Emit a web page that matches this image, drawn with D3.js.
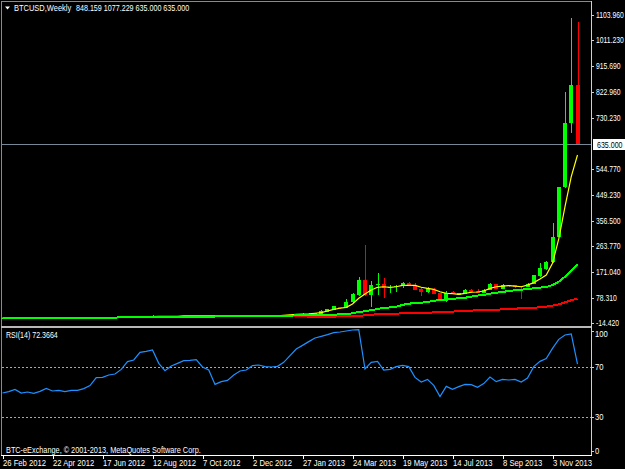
<!DOCTYPE html>
<html><head><meta charset="utf-8">
<script src="https://cdn.jsdelivr.net/npm/d3@7"></script>
<style>html,body{margin:0;padding:0;background:#000}svg{display:block}text{font-family:"Liberation Sans",Arial,sans-serif;font-size:8.5px;fill:#fff}</style>
</head><body><svg id="c" width="625" height="469"></svg>
<script>
const opens=[4.9,5.0,4.9,4.8,5.2,5.4,4.9,5.0,5.0,5.1,4.9,5.1,5.1,5.1,5.2,5.6,6.5,6.6,6.8,7.0,7.6,8.8,8.9,10.5,11.0,13.2,11.2,10.0,10.8,11.2,12.0,12.2,12.4,12.2,11.8,10.5,11.0,11.2,12.2,12.6,12.3,13.0,13.4,13.4,13.4,13.6,14.0,14.4,19.0,20.0,18.0,
19.3,26.5,33.7,44,41,63,89,142,89,126,127,112,116,123,130,125.5,108.6,97.7,107,96.5,71,98,87,90.5,105,102.5,96.5,106,127,110,124,123,122,118,128,157,181,206,297,478,710,848.159];
const closes=[5.0,4.9,4.8,5.2,5.4,4.9,5.0,5.0,5.1,4.9,5.1,5.1,5.1,5.2,5.6,6.5,6.6,6.8,7.0,7.6,8.8,8.9,10.5,11.0,13.2,11.2,10.0,10.8,11.2,12.0,12.2,12.4,12.2,11.8,10.5,11.0,11.2,12.2,12.6,12.3,13.0,13.4,13.4,13.4,13.6,14.0,14.4,19.0,20.0,18.0,23.0,
29,36,48,42,63,92,142,89,124,127,112,117,121,131.5,125.5,107,99,112,93,71,94,90.5,95,106,99,96.5,106,128,110,124,119,117,118,128,160.5,187,209,299,478,710,848,635];
const highs=[5.2,5.1,5.0,5.3,5.5,5.4,5.1,5.1,5.2,5.1,5.2,5.2,5.2,5.3,5.7,6.6,6.8,7.0,7.1,7.8,9.0,9.2,10.8,11.5,15.5,13.5,11.5,11.0,11.5,12.2,12.5,12.6,12.5,12.3,11.9,11.2,11.5,12.4,12.9,12.8,13.2,14.5,13.7,13.6,13.9,14.3,15.0,20.0,22.0,21.5,24.0,
32,36,48,46,75,96.5,152,268,139,166,148,124,125,136,136,131.5,116,118,112,96.5,102.5,102.5,95,111,110,108.5,110,132,128,127,124,123,122,130,162,205,211,350,478,823,1091,1077.229];
const lows=[4.7,4.8,4.6,4.7,5.1,4.8,4.8,4.9,4.9,4.8,4.8,5.0,5.0,5.0,5.1,5.5,6.3,6.4,6.6,6.9,7.4,8.5,8.8,10.3,10.8,10.0,9.5,9.8,10.6,11.0,11.8,12.0,11.9,11.5,10.0,10.2,10.8,11.1,12.0,12.0,12.1,12.8,13.0,13.1,13.2,13.5,13.8,14.2,18.0,17.5,17.5,
19,26,33,38,41,60,84,84,46,88,77,95,99,112,125,107,84.5,97,93,71,64,90,87,90.5,94,94,94,105,110,109,116,115,72,117,127,155,180,205,297,475,676,635];
const fastMA=[5,5,5,5,5,5,5,5,5,5,5,5,5,5,5,5,5,5,5,8,9,9.5,10,10,10,10.5,10.5,10.5,10.5,12.5,12.5,12.5,12.5,12.5,12.5,10.5,10.5,10.5,11,11,11,11.5,12,12,12.5,14,16,18,19,20,22,
24,30,36,40,43.4,55.5,76,92,106,116,118,116,118,123,123,123,116,112,108.6,100,94,93,90.5,94,98,99,102.5,112,118,120,122,120,118,124,133,146,160.5,203,291,408,517,595];
const midMA=[5,5,5,5,5,5,5,5,5,5,5,5,5,5,5,5,5,5,5,9.5,9.8,10,10,10,10,10.2,10.2,10.2,10.2,10.2,10.2,10.2,10.2,10.2,10.2,10.4,10.4,10.4,10.6,10.6,10.6,10.8,10.8,11,11,13,13.5,14,14.5,15,15.5,
15.6,16.8,16.8,18,19,21.7,26.5,29,33.7,37,42,43,46,52,57,58,60,63,67.5,69,71,73.6,77,78,82,86,88,93,96.5,99,102.5,105,107,110,112,115,117,124,136,154,176,199];
const slowMA=[5,5,5,5,5,5,5,5,5,5,5,5,5,5,5,5,5,5,5,9.5,9.8,10,10,10,10,10.2,10.2,10.2,10.2,10.2,10.2,10.2,10.2,10.2,10.2,10.4,10.4,10.4,10.6,10.6,10.6,10.8,10.8,11,11,11,11,11,10.5,10,9.5,
9.6,9.6,9.6,11,11,12,12,14.4,17,18,19,19,20.5,21.7,21.7,24,24,24,25,26,26,27.7,30,30,31,34,34,35,35,36,38.6,38.6,40,42,42,43.4,46,49.5,54,61.5,69,75];
const rsi=[49.2,50.3,52.1,49.2,50,48.9,50.5,52.9,50.8,51.3,50.3,51.3,51.3,52.7,55.1,61.5,61.7,63.6,64.4,68.1,74.3,75.6,81.7,82.5,83.6,72.9,67.1,70.8,72.9,75.1,75.3,75.9,70,67.6,56.1,58.3,59.3,63.6,66.8,67.6,71.1,71.6,70.3,70,70.5,73.7,79.1,84.4,87.3,90.3,93.2,94.5,95.9,97.5,98,98.8,99.6,99.9,68.4,73.7,74.5,67.6,68.1,70.3,71.3,70.3,61.7,58,60.1,55.3,46.3,54.5,52.1,54.3,56.1,55.9,53.7,56.7,62,58.3,60.1,59.6,60.1,58,61.2,70.3,74.5,76.7,84.9,92.1,95.6,96.4,72.37];
const priceTicks=[1103.96,1011.23,915.69,822.96,730.23,544.77,449.23,356.5,263.77,171.04,78.31,-14.42];
const rsiLevels=[100,70,30,0];
const rsiDotted=[70,30];
const timeLabels=["26 Feb 2012","22 Apr 2012","17 Jun 2012","12 Aug 2012","7 Oct 2012","2 Dec 2012","27 Jan 2013","24 Mar 2013","19 May 2013","14 Jul 2013","8 Sep 2013","3 Nov 2013"];
const lastPrice=635;
const titleText="BTCUSD,Weekly";
const ohlcText="848.159 1077.229 635.000 635.000";
const rsiText="RSI(14) 72.3664";
const copyText="BTC-eExchange, © 2001-2013, MetaQuotes Software Corp.";

const svg=d3.select("#c");
const x=d3.scaleLinear().domain([0,92]).range([2.5,577.5]);
const y=d3.scaleLinear().domain([-14.42,1103.96]).range([323.3,14.5]);
const yr=d3.scaleLinear().domain([0,100]).range([454.5,329.5]);
const idx=d3.range(closes.length);
const px=i=>Math.round(x(i));
// squeeze a label horizontally so its width matches the reference's narrow UI font
const fit=(sel,k)=>{const n=sel.node();sel.attr("textLength",n.getComputedTextLength()*k).attr("lengthAdjust","spacingAndGlyphs");return sel;};

// frame
const fr=svg.append("g");
fr.append("rect").attr("x",1).attr("y",1).attr("width",590).attr("height",1).attr("fill","#8a8a8a");
fr.append("rect").attr("x",1).attr("y",1).attr("width",1).attr("height",454).attr("fill","#8a8a8a");
fr.append("rect").attr("x",591).attr("y",1).attr("width",1).attr("height",455).attr("fill","#d0d0d0");
fr.append("rect").attr("x",1).attr("y",326).attr("width",590).attr("height",2).attr("fill","#b8b8b8");
fr.append("rect").attr("x",1).attr("y",455).attr("width",591).attr("height",1).attr("fill","#fff");

// last price line
svg.append("line").attr("x1",2).attr("x2",591).attr("y1",Math.round(y(lastPrice))+.5).attr("y2",Math.round(y(lastPrice))+.5).attr("stroke","#778899").attr("shape-rendering","crispEdges");

// candles
const col=i=>closes[i]>=opens[i]?"#00ff00":"#ff0000";
const g=svg.append("g").attr("shape-rendering","crispEdges");
g.selectAll("rect.w").data(idx).join("rect").attr("class","w")
 .attr("x",px).attr("width",1).attr("y",i=>Math.round(y(highs[i])))
 .attr("height",i=>Math.max(1,Math.round(y(lows[i]))-Math.round(y(highs[i])))).attr("fill",col);
g.selectAll("rect.b").data(idx).join("rect").attr("class","b")
 .attr("x",i=>px(i)-2).attr("width",4)
 .attr("y",i=>Math.round(y(Math.max(opens[i],closes[i]))))
 .attr("height",i=>Math.max(1,Math.abs(Math.round(y(opens[i]))-Math.round(y(closes[i])))))
 .attr("fill",col);

// moving averages
const ln=a=>d3.line().x(i=>x(i)).y(i=>y(a[i]))(idx);
svg.append("path").attr("d",ln(slowMA)).attr("fill","none").attr("stroke","#ff0000").attr("stroke-width",2).attr("shape-rendering","crispEdges");
svg.append("path").attr("d",ln(fastMA)).attr("fill","none").attr("stroke","#ffff00").attr("stroke-width",1.2);
svg.append("path").attr("d",ln(midMA)).attr("fill","none").attr("stroke","#00ff00").attr("stroke-width",2).attr("shape-rendering","crispEdges");

// RSI
rsiDotted.forEach(v=>svg.append("line").attr("x1",2).attr("x2",591).attr("y1",Math.round(yr(v))+.5).attr("y2",Math.round(yr(v))+.5)
 .attr("stroke","#a8a8a8").attr("stroke-dasharray","2,2").attr("shape-rendering","crispEdges"));
svg.append("path").attr("d",d3.line().x(i=>x(i)).y(i=>yr(rsi[i]))(idx)).attr("fill","none").attr("stroke","#1e90ff").attr("stroke-width",1.2);

// price axis
const ax=svg.append("g");
priceTicks.forEach(v=>{const p=Math.round(y(v));
 ax.append("rect").attr("x",592).attr("y",p).attr("width",2).attr("height",1).attr("fill","#d0d0d0");
 fit(ax.append("text").attr("x",596).attr("y",p+3).text(v.toFixed(3)),0.8);});
ax.append("rect").attr("x",593).attr("y",Math.round(y(lastPrice))-5).attr("width",32).attr("height",11).attr("fill","#fff");
fit(ax.append("text").attr("x",597).attr("y",Math.round(y(lastPrice))+3.5).style("fill","#000").text(lastPrice.toFixed(3)),0.83);
rsiLevels.forEach(v=>{const p=yr(v);const ty=v===100?337:v===0?454:p+3;
 ax.append("rect").attr("x",592).attr("y",v===100?331:v===0?451:Math.round(p)).attr("width",2).attr("height",1).attr("fill","#d0d0d0");
 fit(ax.append("text").attr("x",595).attr("y",ty).text(v),0.9);});

// time axis
timeLabels.forEach((t,k)=>{const p=px(k*8);
 svg.append("rect").attr("x",p).attr("y",456).attr("width",1).attr("height",3).attr("fill","#fff");
 fit(svg.append("text").attr("x",p).attr("y",465.5).text(t),0.9);});

// titles
svg.append("path").attr("d","M5 6.5L10 6.5L7.5 9.5Z").attr("fill","#fff");
fit(svg.append("text").attr("x",14).attr("y",11).text(titleText),0.88);
fit(svg.append("text").attr("x",76).attr("y",11).text(ohlcText),0.84);
fit(svg.append("text").attr("x",6).attr("y",338).text(rsiText),0.83);
fit(svg.append("text").attr("x",6).attr("y",452.5).text(copyText),0.86);
</script></body></html>
